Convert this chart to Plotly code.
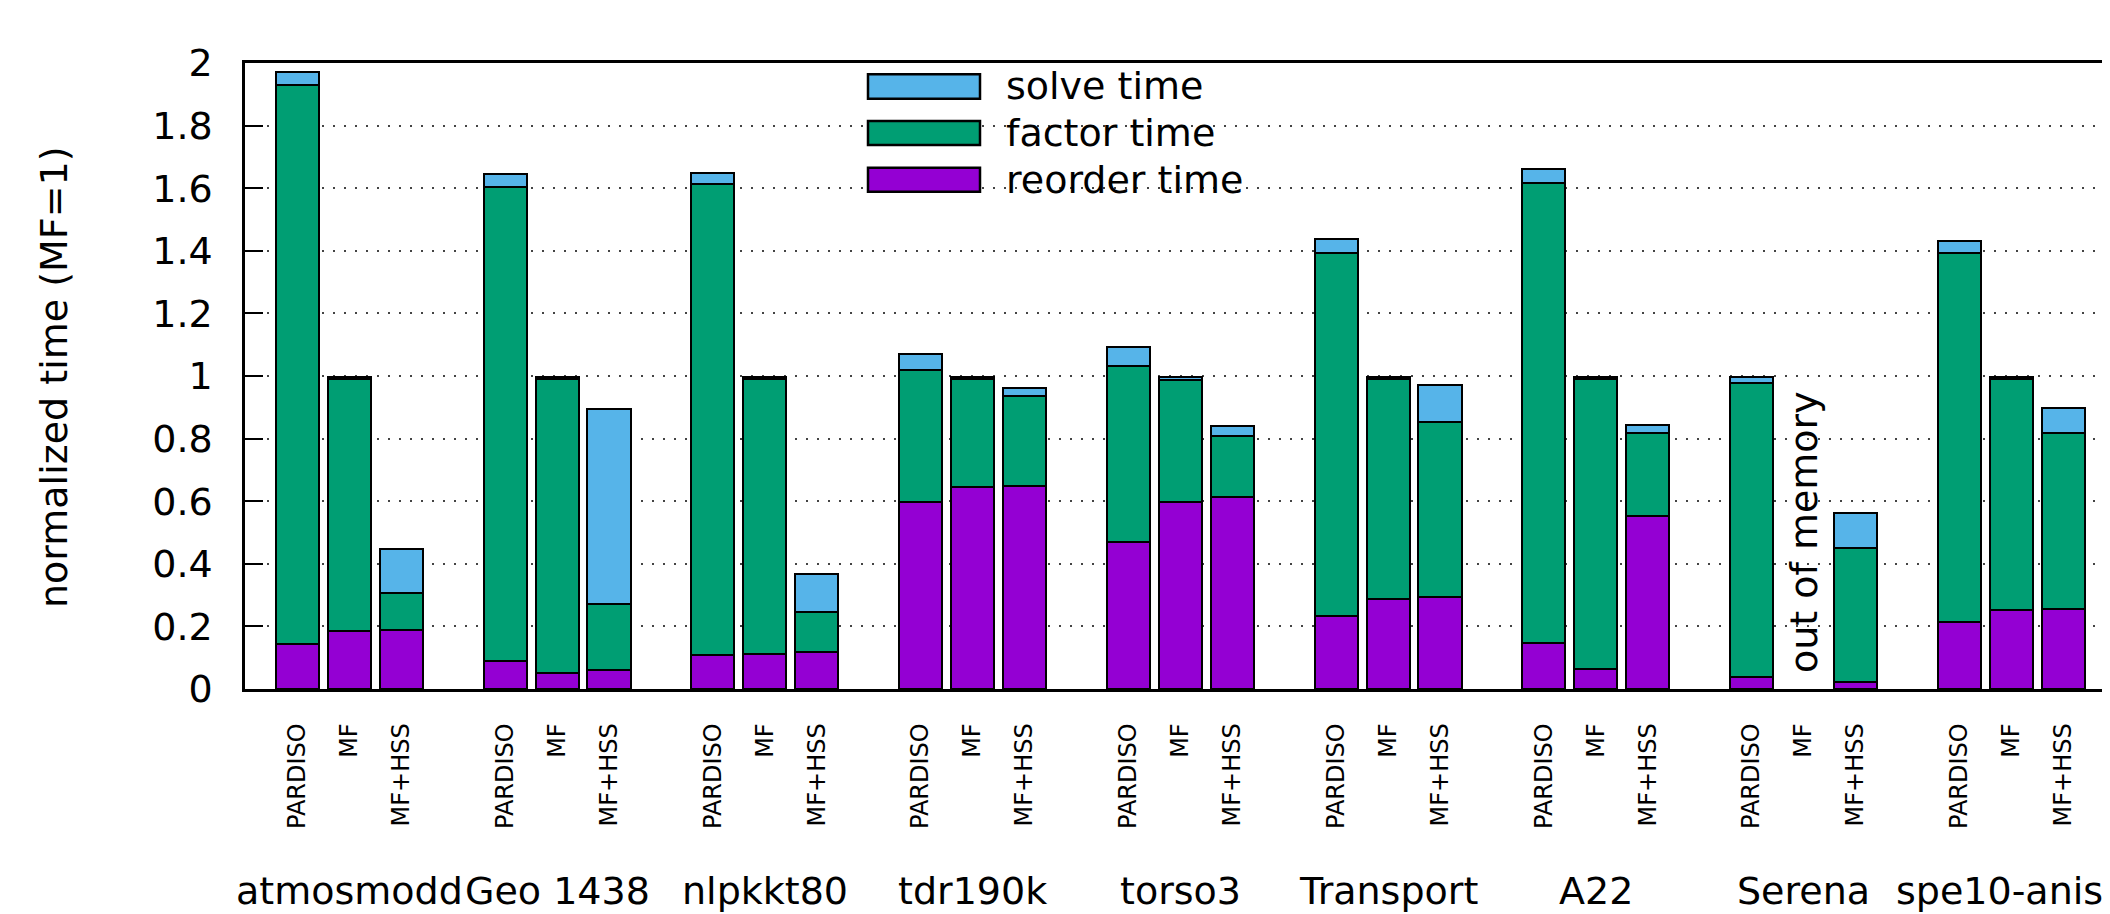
import plotly.graph_objects as go

# ---------------- data ----------------
matrices = ["atmosmodd", "Geo 1438", "nlpkkt80", "tdr190k", "torso3",
            "Transport", "A22", "Serena", "spe10-aniso"]
solvers = ["PARDISO", "MF", "MF+HSS"]

# per matrix: [PARDISO, MF, MF+HSS]  (None = out of memory)
reorder = [
    [0.145, 0.186, 0.190],
    [0.090, 0.050, 0.060],
    [0.108, 0.112, 0.117],
    [0.598, 0.644, 0.650],
    [0.469, 0.598, 0.612],
    [0.234, 0.289, 0.293],
    [0.148, 0.063, 0.554],
    [0.037, None, 0.021],
    [0.215, 0.251, 0.256],
]
factor = [
    [1.785, 0.804, 0.118],
    [1.513, 0.940, 0.210],
    [1.504, 0.878, 0.130],
    [0.421, 0.346, 0.287],
    [0.563, 0.388, 0.196],
    [1.158, 0.701, 0.559],
    [1.468, 0.927, 0.265],
    [0.940, None, 0.430],
    [1.177, 0.739, 0.561],
]
solve = [
    [0.040, 0.008, 0.138],
    [0.042, 0.008, 0.625],
    [0.036, 0.008, 0.119],
    [0.050, 0.008, 0.024],
    [0.062, 0.012, 0.033],
    [0.046, 0.008, 0.120],
    [0.044, 0.008, 0.024],
    [0.021, None, 0.112],
    [0.038, 0.008, 0.081],
]
series_names = ["reorder time", "factor time", "solve time"]
series_colors = ["#9400D3", "#009E73", "#56B4E9"]
yticks = [0, 0.2, 0.4, 0.6, 0.8, 1, 1.2, 1.4, 1.6, 1.8, 2]
ytick_text = ["0", "0.2", "0.4", "0.6", "0.8", "1", "1.2", "1.4", "1.6", "1.8", "2"]
oom_matrix, oom_solver = "Serena", "MF"

# ---------------- layout geometry ----------------
# page body has an 8px default margin; compensate so the picture lands on the reference
OFF = 8
W, H = 2110 - OFF, 914 - OFF
L, T = 245 - OFF, 63 - OFF
BOTTOM = 689 - OFF           # y pixel of the x axis inside the figure
B = H - BOTTOM
PW, PH = W - L, BOTTOM - T
FONT = "DejaVu Sans"

def px(xp):  # reference page pixel -> paper
    return (xp - OFF - L) / PW

def py(yp):
    return (BOTTOM - (yp - OFF)) / PH

SLOT = 4  # 3 bars + gap per group
xpos, xlab = [], []
for g, m in enumerate(matrices):
    for j, s in enumerate(solvers):
        xpos.append(g * SLOT + j)
        xlab.append(s)

def flat(arr):
    return [v for row in arr for v in row]

fig = go.Figure()
for name, col, arr in zip(series_names, series_colors, [reorder, factor, solve]):
    fig.add_trace(go.Bar(
        x=xpos, y=flat(arr), name=name, width=0.83,
        marker=dict(color=col, line=dict(color="black", width=2.5)),
        showlegend=False,
    ))

# manual legend (gnuplot-style large swatches), top to bottom: solve, factor, reorder
annotations = []
shapes = [dict(type="rect", xref="paper", yref="paper", x0=px(850), x1=px(1310),
               y0=py(215), y1=1.0, fillcolor="white", line=dict(width=0), layer="between")]
rows = [(74.3, 98.7), (121.0, 145.0), (167.7, 191.7)]
for (y0, y1), name, col in zip(rows, series_names[::-1], series_colors[::-1]):
    shapes.append(dict(type="rect", xref="paper", yref="paper", x0=px(868), x1=px(980),
                       y0=py(y1), y1=py(y0), fillcolor=col,
                       line=dict(color="black", width=2.5), layer="above"))
    annotations.append(dict(text=name, xref="paper", yref="paper", x=px(1004),
                            y=py((y0 + y1) / 2), xanchor="left", yanchor="middle",
                            showarrow=False, font=dict(family=FONT, size=38, color="black")))

# group labels
for g, m in enumerate(matrices):
    annotations.append(dict(text=m, xref="x", yref="paper", x=g * SLOT + 1, y=py(891),
                            xanchor="center", yanchor="middle", showarrow=False,
                            font=dict(family=FONT, size=38, color="black")))

# out of memory
annotations.append(dict(text="out of memory", xref="x", yref="y",
                        x=matrices.index(oom_matrix) * SLOT + solvers.index(oom_solver),
                        y=0.5, textangle=-90, xanchor="center", yanchor="middle",
                        showarrow=False, font=dict(family=FONT, size=38, color="black")))

# y axis title
annotations.append(dict(text="normalized time (MF=1)", xref="paper", yref="paper",
                        x=px(54), y=py(378), textangle=-90, xanchor="center",
                        yanchor="middle", showarrow=False,
                        font=dict(family=FONT, size=38, color="black")))

xr = [-1.009, 34.90]
fig.update_layout(
    width=W, height=H, margin=dict(l=L, r=0, t=T, b=B, pad=0),
    paper_bgcolor="white", plot_bgcolor="white",
    barmode="stack", bargap=0,
    font=dict(family=FONT, size=38, color="black"),
    xaxis=dict(range=xr, tickmode="array", tickvals=xpos, ticktext=xlab,
               tickangle=-90, tickfont=dict(size=24), ticks="", ticklabelstandoff=22,
               showgrid=False, zeroline=False, showline=True, linecolor="black",
               linewidth=2.5, mirror=True),
    yaxis=dict(range=[0, 2], tickmode="array", tickvals=yticks, ticktext=ytick_text,
               ticks="inside", ticklen=18, tickwidth=2, tickcolor="black",
               ticklabelstandoff=22,
               showgrid=True, gridcolor="#444", gridwidth=1.5, griddash="1.5px,9.5px",
               zeroline=False, showline=True, linecolor="black", linewidth=2.5),
    yaxis2=dict(range=[0, 2], overlaying="y", side="right", tickmode="array",
                tickvals=yticks, ticks="inside", ticklen=18, tickwidth=2,
                tickcolor="black", showticklabels=False, showgrid=False,
                zeroline=False, showline=False),
    shapes=shapes, annotations=annotations,
)
fig.write_html("out.html")
